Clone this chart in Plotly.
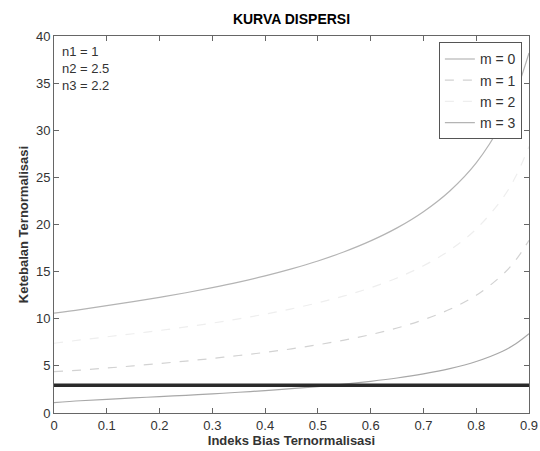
import plotly.graph_objects as go

# Normalized index b (x axis)
b_vals = [0.0, 0.05, 0.10, 0.15, 0.20, 0.25, 0.30, 0.35, 0.40, 0.45,
          0.50, 0.55, 0.60, 0.65, 0.70, 0.75, 0.80, 0.85, 0.875, 0.90]

# Normalized thickness V per mode
v_m0 = [1.10, 1.30, 1.45, 1.60, 1.74, 1.88, 2.03, 2.20, 2.38, 2.58,
        2.80, 3.06, 3.36, 3.71, 4.15, 4.71, 5.47, 6.56, 7.34, 8.40]
v_m1 = [4.40, 4.55, 4.77, 5.00, 5.25, 5.51, 5.79, 6.10, 6.43, 6.81,
        7.24, 7.74, 8.32, 9.02, 9.89, 11.00, 12.49, 14.68, 16.23, 18.33]
v_m2 = [7.40, 7.75, 8.08, 8.41, 8.76, 9.14, 9.54, 9.99, 10.49, 11.05,
        11.69, 12.42, 13.29, 14.33, 15.62, 17.28, 19.52, 22.79, 25.11, 28.27]
v_m3 = [10.60, 10.97, 11.39, 11.82, 12.27, 12.76, 13.30, 13.89, 14.55, 15.29,
        16.13, 17.11, 18.26, 19.64, 21.36, 23.56, 26.54, 30.90, 34.00, 38.20]

cutoff_x = [0.0, 0.9]
cutoff_v = [2.95, 2.95]

x_ticks = [0, 0.1, 0.2, 0.3, 0.4, 0.5, 0.6, 0.7, 0.8, 0.9]
x_tick_labels = ["0", "0.1", "0.2", "0.3", "0.4", "0.5", "0.6", "0.7", "0.8", "0.9"]
y_ticks = [0, 5, 10, 15, 20, 25, 30, 35, 40]

mode_names = ["m = 0", "m = 1", "m = 2", "m = 3"]
series = [v_m0, v_m1, v_m2, v_m3]
colors = ["#a8a8a8", "#d2d2d2", "#eeeeee", "#b4b4b4"]
dashes = ["solid", "dash", "dash", "solid"]

FONT = "Arial, Liberation Sans, sans-serif"

fig = go.Figure()
for name, vals, col, dsh in zip(mode_names, series, colors, dashes):
    fig.add_trace(go.Scatter(x=b_vals, y=vals, mode="lines", name=name,
                             line=dict(color=col, width=1.2, dash=dsh, shape="spline")))

fig.add_trace(go.Scatter(x=cutoff_x, y=cutoff_v, mode="lines", showlegend=False,
                         line=dict(color="#2a2a2a", width=3.5)))

axis_common = dict(showline=True, linecolor="#666666", linewidth=1, mirror="ticks",
                   ticks="inside", ticklen=5, tickcolor="#666666", showgrid=False,
                   zeroline=False, automargin=False,
                   tickfont=dict(family=FONT, size=13, color="#333333"))

fig.update_xaxes(range=[0, 0.9], tickvals=x_ticks, ticktext=x_tick_labels,
                 title=dict(text="<b>Indeks Bias Ternormalisasi</b>", standoff=2,
                            font=dict(family=FONT, size=13, color="#333333")),
                 **axis_common)
fig.update_yaxes(range=[0, 40], tickvals=y_ticks,
                 title=dict(text="<b>Ketebalan Ternormalisasi</b>", standoff=4,
                            font=dict(family=FONT, size=13, color="#333333")),
                 **axis_common)

fig.add_annotation(x=0.012, y=0.985, xref="paper", yref="paper", xanchor="left", yanchor="top",
                   text="n1 = 1<br>n2 = 2.5<br>n3 = 2.2", showarrow=False, align="left",
                   font=dict(family=FONT, size=13, color="#333333"))

fig.update_layout(
    width=540, height=451,
    margin=dict(l=54, r=11, t=36, b=38),
    paper_bgcolor="white", plot_bgcolor="white",
    title=dict(text="<b>KURVA DISPERSI</b>", x=0.5, xanchor="center", xref="paper",
               y=0.958, yanchor="middle",
               font=dict(family=FONT, size=14, color="#000000")),
    legend=dict(x=0.985, y=0.983, xanchor="right", yanchor="top",
                bgcolor="white", bordercolor="#555555", borderwidth=1,
                font=dict(family=FONT, size=14, color="#333333"),
                tracegroupgap=0, itemwidth=30),
    showlegend=True,
)

fig.write_html(
    "out.html",
    config={"displayModeBar": False},
    post_script="document.body.style.margin='0px';document.body.style.overflow='hidden';",
)
